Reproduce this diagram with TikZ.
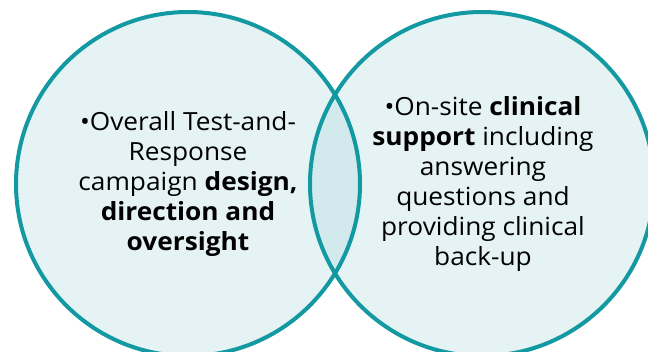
\documentclass[tikz,border=0pt]{standalone}
\usepackage{fontspec}
\setmainfont{Open Sans}[FakeStretch=1.05]
\definecolor{ringteal}{HTML}{1399A1}
\definecolor{ringfill}{HTML}{E5F3F5}
\definecolor{overlapfill}{HTML}{D2EAED}
\begin{document}
\begin{tikzpicture}[x=1pt,y=1pt,
  ring/.style={circle, minimum size=344pt, inner sep=0pt, fill=ringfill},
  ringline/.style={draw=ringteal, line width=4pt},
  label/.style={align=center, font=\fontsize{25}{30}\selectfont, text=black, inner sep=0pt}]
\useasboundingbox (0,0) rectangle (648,351);
\clip (0,0) rectangle (648,351);
\node[ring] (L) at (188,167) {};
\node[ring] (R) at (482,167) {};
\begin{scope}
  \clip (188,167) circle (172);
  \fill[overlapfill] (482,167) circle (172);
\end{scope}
\draw[ringline] (L.center) circle (172);
\draw[ringline] (R.center) circle (172);
\node[label] (lt) at (188,167) {•Overall Test-and-\\Response\\campaign \textbf{design,}\\\textbf{direction and}\\\textbf{oversight}};
\node[label] (rt) at (483,167) {•On-site \textbf{clinical}\\\textbf{support} including\\answering\\questions and\\providing clinical\\back-up};
\end{tikzpicture}
\end{document}
